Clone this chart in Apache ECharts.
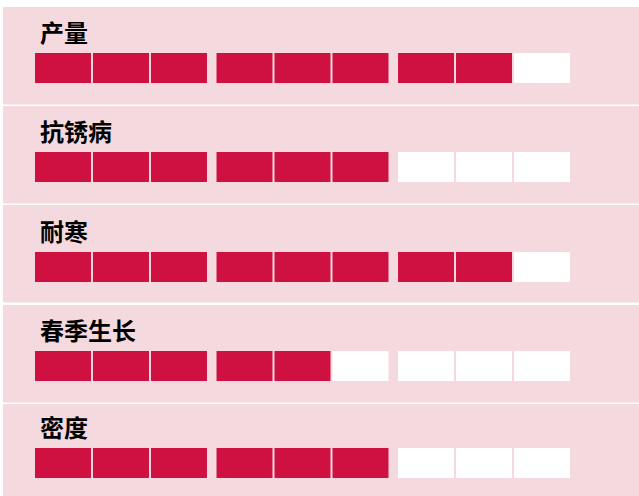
<!DOCTYPE html>
<html>
<head>
<meta charset="utf-8">
<script src="https://cdn.jsdelivr.net/npm/echarts@6/dist/echarts.min.js"></script>
<style>
html,body{margin:0;padding:0;background:#fff;}
#chart{width:639px;height:496px;}
</style>
</head>
<body>
<div id="chart"></div>
<script>
// ---- data ----
const categories = ['产量', '抗锈病', '耐寒', '春季生长', '密度'];
const scores = [8, 6, 8, 5, 6];
const maxScore = 9;
const groupSize = 3;

// ---- layout / style ----
const RED = '#CE1141';
const PINK = '#F4D9DE';
const panelTops = [7, 106, 205, 305, 404];
const panelH = 97.5;
const boxTops = [53, 152, 252, 351, 448];
const boxH = 30;
const boxW = 56 / 58;   // box width in pitch units
const gGap = 0.13;      // extra gap between groups in pitch units
const axisMax = (maxScore - 1) + 2 * gGap + boxW;

const chart = echarts.init(document.getElementById('chart'), null, {renderer: 'svg'});

const grids = [], xAxes = [], yAxes = [], series = [], titles = [], graphics = [];
categories.forEach((name, r) => {
  graphics.push({
    type: 'rect', left: 3, top: panelTops[r], silent: true, z: -10,
    shape: {width: 636, height: panelH}, style: {fill: PINK}
  });
  titles.push({
    text: name, left: 35, top: boxTops[r] - 39,
    textStyle: {fontSize: 24, fontWeight: 'bold', color: '#000', fontFamily: '"Noto Sans CJK SC", sans-serif'}
  });
  grids.push({left: 35, width: 535, top: boxTops[r], height: boxH, show: false});
  xAxes.push({type: 'value', gridIndex: r, min: 0, max: axisMax, show: false});
  yAxes.push({type: 'value', gridIndex: r, min: 0, max: 1, show: false});
  const data = [];
  for (let i = 0; i < maxScore; i++) data.push([i, i < scores[r] ? 1 : 0]);
  series.push({
    type: 'custom', xAxisIndex: r, yAxisIndex: r, data: data, silent: true,
    renderItem: function (params, api) {
      const idx = api.value(0);
      const filled = api.value(1);
      const start = idx + Math.floor(idx / groupSize) * gGap;
      const p0 = api.coord([start, 1]);
      const p1 = api.coord([start + boxW, 0]);
      return {
        type: 'rect',
        shape: {x: p0[0], y: p0[1], width: p1[0] - p0[0], height: p1[1] - p0[1]},
        style: {fill: filled ? RED : '#FFFFFF'}
      };
    }
  });
});

chart.setOption({
  animation: false,
  backgroundColor: '#FFFFFF',
  title: titles,
  graphic: graphics,
  grid: grids,
  xAxis: xAxes,
  yAxis: yAxes,
  series: series
});
</script>
</body>
</html>
